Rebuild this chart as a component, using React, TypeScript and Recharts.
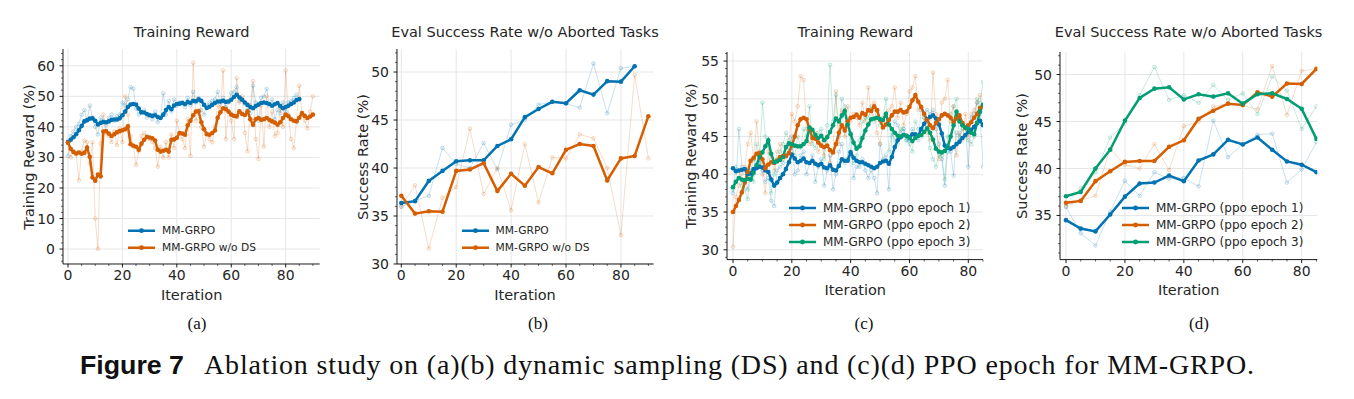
import React from "react";
import { LineChart, Line, XAxis, YAxis, CartesianGrid } from "recharts";

const BLUE = "#0173B2";
const ORANGE = "#D55E00";
const GREEN = "#029E73";
const INK = "#262626";
const GRID = "#e6e6e6";
const SANS = "'DejaVu Sans', sans-serif";

// ---- training reward, one point per iteration ----
// MM-GRPO (= ppo epoch 2), iterations 0..85
const mmGrpoTrainSmooth = [
  35.0, 35.8, 36.6, 37.6, 38.9, 40.3, 41.8, 42.2, 42.7, 42.8,
  42.0, 40.8, 41.3, 41.6, 41.5, 41.8, 42.3, 42.4, 42.4, 42.8,
  43.8, 45.0, 46.5, 47.3, 47.5, 47.3, 46.0, 44.8, 44.7, 44.2,
  43.8, 43.6, 43.8, 43.2, 42.9, 44.0, 45.5, 46.5, 45.8, 47.0,
  47.5, 47.6, 47.9, 47.5, 48.1, 47.9, 48.5, 48.4, 49.0, 48.5,
  47.2, 46.2, 46.6, 47.2, 47.8, 48.3, 48.3, 48.5, 48.2, 48.3,
  48.9, 49.8, 50.5, 49.6, 48.9, 48.0, 47.2, 46.5, 46.1, 46.8,
  47.3, 47.8, 48.0, 47.8, 47.5, 46.9, 47.4, 47.8, 46.8, 46.1,
  46.5, 46.9, 47.5, 48.0, 48.8, 49.1,
];
const mmGrpoTrainRaw = [
  30.4, 37.0, 38.5, 40.0, 41.0, 44.0, 45.5, 42.0, 47.0, 43.0,
  40.0, 37.5, 43.0, 42.0, 40.5, 43.0, 44.0, 42.0, 43.5, 44.0,
  48.0, 47.0, 49.0, 53.0, 52.5, 46.0, 44.0, 44.5, 45.5, 43.0,
  44.0, 42.5, 45.0, 41.5, 43.0, 51.0, 44.0, 48.5, 45.0, 49.0,
  47.0, 48.0, 47.5, 46.5, 49.5, 47.0, 51.5, 48.0, 49.5, 45.5,
  44.0, 47.0, 48.0, 48.5, 49.0, 51.5, 47.5, 49.5, 46.5, 48.0,
  51.0, 51.5, 53.0, 48.5, 49.0, 47.5, 45.5, 44.5, 53.5, 48.0,
  42.0, 49.5, 50.0, 52.5, 47.0, 49.0, 42.5, 45.5, 44.5, 48.0,
  45.0, 48.0, 48.5, 49.5, 50.5, 49.0,
];
// MM-GRPO w/o DS, iterations 0..90
const noDsTrainSmooth = [
  34.8, 32.8, 31.8, 31.3, 31.6, 31.2, 31.5, 33.2, 30.2, 23.4,
  22.4, 24.4, 23.8, 38.5, 38.6, 37.8, 37.0, 37.6, 38.2, 38.6,
  38.9, 39.2, 40.2, 34.3, 33.8, 33.5, 32.5, 34.5, 35.8, 36.7,
  36.5, 36.3, 35.5, 32.5, 31.9, 32.2, 32.5, 31.9, 35.8, 35.9,
  36.4, 38.0, 37.8, 37.4, 40.5, 42.0, 43.8, 45.0, 45.1, 41.5,
  39.2, 37.6, 37.4, 38.0, 38.8, 43.0, 44.8, 46.1, 45.8, 45.0,
  44.0, 43.6, 43.4, 45.1, 44.2, 43.9, 45.1, 42.5, 40.7, 42.5,
  42.9, 42.3, 42.5, 42.9, 42.3, 41.8, 41.4, 40.7, 41.5, 42.9,
  44.0, 43.5, 42.5, 42.0, 41.8, 43.0, 44.5, 43.6, 42.9, 43.4,
  44.0,
];
const noDsTrainRaw = [
  35.5, 30.0, 32.0, 31.0, 22.5, 32.0, 35.5, 35.0, 28.0, 35.0,
  10.0, 0.0, 34.5, 44.0, 38.0, 37.0, 35.0, 38.5, 34.0, 39.5,
  35.0, 50.0, 44.0, 37.0, 34.0, 27.5, 32.0, 37.0, 38.0, 37.0,
  36.0, 35.0, 33.0, 27.0, 33.5, 30.0, 35.0, 30.0, 37.5, 33.0,
  42.0, 38.0, 36.0, 33.0, 42.5, 30.5, 61.0, 42.0, 45.5, 40.0,
  33.5, 38.0, 36.0, 35.0, 40.0, 47.0, 46.0, 58.5, 36.0, 45.0,
  42.0, 36.0, 56.0, 48.0, 50.0, 38.0, 32.0, 47.0, 55.0, 36.0,
  29.5, 47.0, 33.5, 50.0, 40.0, 45.0, 37.0, 38.0, 46.0, 40.0,
  58.5, 44.0, 36.0, 33.0, 42.0, 53.5, 44.0, 42.0, 39.5, 45.0,
  50.0,
];
// ppo epoch 1 and 3, iterations 0..85
const ppo1TrainSmooth = [
  40.8, 40.4, 40.5, 40.6, 40.7, 40.0, 40.1, 40.7, 40.8, 41.0,
  40.9, 40.5, 40.3, 39.3, 38.5, 38.9, 39.5, 40.0, 40.7, 41.6,
  42.6, 42.1, 41.6, 41.8, 42.1, 41.6, 41.5, 41.8, 41.4, 41.2,
  41.4, 40.9, 40.8, 41.2, 40.6, 40.5, 41.1, 42.0, 41.8, 41.8,
  42.9, 42.2, 41.8, 41.6, 41.6, 41.4, 41.2, 41.0, 40.8, 41.0,
  41.5, 41.7, 41.8, 41.4, 42.3, 43.6, 44.5, 44.9, 45.2, 45.1,
  44.9, 45.3, 45.3, 45.1, 46.0, 46.7, 47.3, 47.6, 47.8, 47.4,
  46.6, 45.4, 43.8, 43.5, 43.4, 43.6, 44.0, 44.3, 44.8, 45.2,
  45.6, 45.9, 46.3, 46.8, 47.1, 46.5,
];
const ppo1TrainRaw = [
  37.5, 39.0, 46.0, 41.0, 40.5, 38.0, 40.5, 42.0, 41.0, 41.5,
  40.5, 39.0, 39.5, 36.5, 35.8, 40.5, 41.0, 41.5, 42.5, 43.5,
  45.0, 40.0, 40.5, 42.5, 43.0, 40.0, 41.5, 42.5, 39.0, 41.0,
  42.0, 38.5, 40.5, 42.5, 38.0, 40.0, 43.0, 44.0, 41.5, 42.0,
  45.5, 39.5, 41.0, 41.0, 42.0, 40.5, 39.5, 40.5, 39.5, 37.5,
  44.0, 42.0, 42.5, 38.0, 45.0, 47.0, 46.5, 45.5, 46.0, 44.5,
  44.5, 46.0, 45.0, 44.5, 48.5, 48.0, 48.5, 48.0, 48.5, 46.0,
  44.0, 42.0, 38.5, 43.0, 43.0, 39.8, 45.5, 45.0, 46.5, 46.5,
  41.0, 47.5, 48.0, 49.5, 48.0, 41.0,
];
const ppo3TrainSmooth = [
  38.3, 39.0, 39.5, 39.3, 39.2, 39.4, 39.3, 40.2, 41.2, 42.3,
  42.9, 43.7, 44.5, 42.7, 41.6, 41.7, 41.9, 42.3, 43.6, 44.1,
  44.0, 43.8, 43.7, 43.7, 44.0, 44.4, 46.2, 45.9, 45.2, 44.8,
  45.1, 44.5, 44.9, 45.6, 46.5, 47.4, 47.0, 47.8, 48.4, 46.6,
  45.3, 44.2, 43.4, 43.7, 44.8, 45.8, 46.6, 47.3, 47.4, 47.5,
  47.3, 47.2, 48.0, 46.6, 46.0, 45.5, 45.1, 45.0, 45.2, 45.1,
  44.8, 44.4, 44.8, 45.1, 45.2, 45.6, 46.1, 45.5, 44.6, 43.4,
  43.0, 42.9, 43.1, 43.6, 45.0, 46.5, 48.3, 47.0, 46.5, 46.2,
  46.0, 45.5, 45.3, 46.8, 48.3, 49.2,
];
const ppo3TrainRaw = [
  38.0, 41.0, 40.5, 38.5, 38.0, 36.7, 40.5, 39.0, 44.0, 41.5,
  49.5, 45.0, 44.0, 37.5, 40.0, 42.0, 43.0, 44.0, 45.5, 44.5,
  43.5, 42.5, 45.0, 43.5, 46.0, 45.0, 49.0, 44.0, 43.5, 45.5,
  46.0, 42.0, 46.5, 54.5, 47.0, 50.5, 45.0, 50.0, 49.0, 42.0,
  43.0, 41.5, 42.5, 44.5, 47.0, 47.5, 47.5, 49.0, 47.0, 48.5,
  46.5, 47.5, 50.0, 43.0, 45.5, 44.5, 44.0, 46.0, 46.0, 44.5,
  44.0, 43.0, 47.0, 46.0, 45.0, 47.5, 47.0, 43.5, 42.0, 41.0,
  42.5, 42.5, 39.3, 45.0, 48.0, 49.0, 50.0, 44.5, 46.0, 45.0,
  44.5, 44.0, 45.0, 50.0, 49.5, 52.2,
];

// ---- eval success rate, every 5 iterations ----
// MM-GRPO (= ppo epoch 2), iterations 0..85
const mmGrpoEvalSmooth = [36.35, 36.55, 38.65, 39.7, 40.7, 40.8, 40.8, 42.3, 43.0, 45.3, 46.15, 46.9, 46.75, 48.1, 47.65, 49.05, 49.0, 50.6];
const mmGrpoEvalRaw = [35.95, 36.6, 37.1, 42.1, 40.4, 40.0, 42.6, 39.85, 44.5, 45.0, 46.6, 46.9, 46.7, 46.3, 50.9, 45.7, 50.4, 50.6];
// MM-GRPO w/o DS, iterations 0..90
const noDsEvalSmooth = [37.1, 35.25, 35.5, 35.45, 39.7, 39.85, 40.5, 37.6, 39.4, 38.15, 40.1, 39.45, 41.9, 42.5, 42.3, 38.7, 41.0, 41.25, 45.4];
const noDsEvalRaw = [36.0, 38.2, 31.6, 36.9, 38.0, 44.1, 37.3, 40.0, 35.6, 42.5, 36.4, 41.1, 41.0, 43.5, 43.1, 40.0, 33.0, 49.7, 41.0];
const ppo1EvalSmooth = [34.5, 33.6, 33.3, 35.1, 37.0, 38.4, 38.5, 39.25, 38.65, 40.85, 41.5, 43.05, 42.55, 43.3, 42.0, 40.75, 40.4, 39.6];
const ppo1EvalRaw = [35.9, 33.1, 31.8, 35.4, 38.7, 37.1, 39.6, 38.9, 39.0, 38.1, 45.1, 41.2, 42.6, 43.6, 43.7, 38.5, 39.9, 42.8];
const ppo3EvalSmooth = [37.05, 37.5, 40.0, 42.0, 45.1, 47.5, 48.5, 48.65, 47.35, 47.9, 47.65, 48.0, 46.9, 47.9, 48.0, 47.4, 46.35, 43.15];
const ppo3EvalRaw = [36.2, 37.9, 39.6, 43.3, 44.8, 47.8, 50.8, 47.3, 47.8, 47.0, 48.9, 47.3, 48.0, 45.8, 49.8, 48.3, 44.2, 46.6];

const range = (n: number, step = 1) => Array.from({ length: n }, (_, i) => i * step);
const pts = (ys: number[], step = 1) => ys.map((y, i) => ({ x: i * step, y }));

const xMajor = [0, 20, 40, 60, 80];
const xMinorTo = (max: number) => range(Math.floor(max / 5) + 1, 5);

const Y_W = 60;
const PAD_T = 10;
const PAD_R = 6;
const X_H = 32;

type Series = { color: string; raw: number[]; smooth: number[]; step: number; label: string };

type PanelProps = {
  plot: { l: number; t: number; r: number; b: number };
  xDomain: [number, number];
  yDomain: [number, number];
  yMajor: number[];
  yMinor: number[];
  series: Series[];
  title: string;
  yLabel: string;
  yLabelX: number;
  legend: { x: number; y: number; gap: number; font: number };
};

function Panel(p: PanelProps) {
  const w = p.plot.r - p.plot.l;
  const h = p.plot.b - p.plot.t;
  const bottom = PAD_T + h;
  const xTicks = xMinorTo(p.xDomain[1]);

  const yTick = (props: any) => {
    const { y, payload } = props;
    const major = p.yMajor.includes(payload.value);
    return (
      <g>
        <line x1={Y_W - (major ? 3.5 : 2)} x2={Y_W} y1={y} y2={y} stroke="#000" strokeWidth={major ? 0.9 : 0.6} />
        {major && (
          <text x={Y_W - 8} y={y} dy="0.36em" textAnchor="end" fontSize={14} fill={INK} fontFamily={SANS}>
            {payload.value}
          </text>
        )}
      </g>
    );
  };
  const xTick = (props: any) => {
    const { x, payload } = props;
    const major = xMajor.includes(payload.value);
    return (
      <g>
        <line x1={x} x2={x} y1={bottom} y2={bottom + (major ? 3.5 : 2)} stroke="#000" strokeWidth={major ? 0.9 : 0.6} />
        {major && (
          <text x={x} y={bottom + 6} dy="0.71em" textAnchor="middle" fontSize={14} fill={INK} fontFamily={SANS}>
            {payload.value}
          </text>
        )}
      </g>
    );
  };

  const cx = (p.plot.l + p.plot.r) / 2;

  return (
    <>
      <div style={{ position: "absolute", left: p.plot.l - Y_W, top: p.plot.t - PAD_T }}>
        <LineChart
          width={w + Y_W + PAD_R}
          height={h + PAD_T + X_H}
          margin={{ top: PAD_T, right: PAD_R, left: 0, bottom: 0 }}
        >
          <CartesianGrid stroke={GRID} strokeWidth={1} horizontalValues={p.yMajor} verticalValues={xMajor} />
          <XAxis
            type="number"
            dataKey="x"
            domain={p.xDomain}
            allowDataOverflow
            ticks={xTicks}
            interval={0}
            height={X_H}
            axisLine={{ stroke: "#000", strokeWidth: 0.9 }}
            tickLine={false}
            tick={xTick}
          />
          <YAxis
            type="number"
            dataKey="y"
            domain={p.yDomain}
            allowDataOverflow
            ticks={p.yMinor}
            interval={0}
            width={Y_W}
            axisLine={{ stroke: "#000", strokeWidth: 0.9 }}
            tickLine={false}
            tick={yTick}
          />
          {p.series.map((s, i) => (
            <Line
              key={"raw" + i}
              data={pts(s.raw, s.step)}
              dataKey="y"
              type="linear"
              stroke={s.color}
              strokeOpacity={0.22}
              strokeWidth={1}
              dot={{ r: 1.8, fill: s.color, fillOpacity: 0.06, stroke: s.color, strokeOpacity: 0.28, strokeWidth: 0.8 }}
              activeDot={false}
              isAnimationActive={false}
            />
          ))}
          {p.series.map((s, i) => (
            <Line
              key={"smooth" + i}
              data={pts(s.smooth, s.step)}
              dataKey="y"
              type="linear"
              stroke={s.color}
              strokeWidth={2.5}
              dot={{ r: 2.3, fill: s.color, stroke: s.color, strokeWidth: 0 }}
              activeDot={false}
              isAnimationActive={false}
            />
          ))}
        </LineChart>
      </div>

      <div style={{ ...label, left: cx, top: 32, transform: "translate(-50%, -50%)" }}>{p.title}</div>
      <div style={{ ...label, left: cx, top: p.plot.b + 31, transform: "translate(-50%, -50%)" }}>Iteration</div>
      <div
        style={{
          ...label,
          left: p.yLabelX,
          top: (p.plot.t + p.plot.b) / 2,
          transform: "translate(-50%, -50%) rotate(-90deg)",
        }}
      >
        {p.yLabel}
      </div>

      {p.series.map((s, i) => (
        <div
          key={"lg" + i}
          style={{
            position: "absolute",
            left: p.legend.x,
            top: p.legend.y + i * p.legend.gap,
            transform: "translateY(-50%)",
            display: "flex",
            alignItems: "center",
            fontFamily: SANS,
            fontSize: p.legend.font,
            color: INK,
            whiteSpace: "nowrap",
            lineHeight: 1,
          }}
        >
          <svg width={27} height={8} style={{ marginRight: 7 }}>
            <line x1={0} x2={27} y1={4} y2={4} stroke={s.color} strokeWidth={2.5} />
            <circle cx={13.5} cy={4} r={2.4} fill={s.color} />
          </svg>
          {s.label}
        </div>
      ))}
    </>
  );
}

const label: React.CSSProperties = {
  position: "absolute",
  fontFamily: SANS,
  fontSize: 14.5,
  color: INK,
  whiteSpace: "nowrap",
  lineHeight: 1,
};

const trainMajorA = [0, 10, 20, 30, 40, 50, 60];
const trainMinorA = range(35, 2).map((v) => v - 4);
const evalMajorB = [30, 35, 40, 45, 50];
const evalMinorB = range(23).map((v) => v + 30);
const trainMajorC = [30, 35, 40, 45, 50, 55];
const trainMinorC = range(28).map((v) => v + 29);
const evalMajorD = [35, 40, 45, 50];
const evalMinorD = range(22).map((v) => v + 31);

const ppoLabels = ["MM-GRPO (ppo epoch 1)", "MM-GRPO (ppo epoch 2)", "MM-GRPO (ppo epoch 3)"];

export default function App() {
  return (
    <div
      style={{
        position: "absolute",
        left: 0,
        top: 0,
        width: 1354,
        height: 399,
        background: "#fff",
        overflow: "hidden",
      }}
    >
      <Panel
        plot={{ l: 63.3, t: 49.3, r: 320, b: 264.3 }}
        xDomain={[-1.84, 92.5]}
        yDomain={[-4.9, 65.5]}
        yMajor={trainMajorA}
        yMinor={trainMinorA}
        title="Training Reward"
        yLabel="Training Reward (%)"
        yLabelX={29}
        legend={{ x: 128, y: 231, gap: 16.5, font: 10.7 }}
        series={[
          { color: BLUE, raw: mmGrpoTrainRaw, smooth: mmGrpoTrainSmooth, step: 1, label: "MM-GRPO" },
          { color: ORANGE, raw: noDsTrainRaw, smooth: noDsTrainSmooth, step: 1, label: "MM-GRPO w/o DS" },
        ]}
      />
      <Panel
        plot={{ l: 396.7, t: 49.3, r: 653.3, b: 264.3 }}
        xDomain={[-1.57, 91.9]}
        yDomain={[30, 52.4]}
        yMajor={evalMajorB}
        yMinor={evalMinorB}
        title="Eval Success Rate w/o Aborted Tasks"
        yLabel="Success Rate (%)"
        yLabelX={362.7}
        legend={{ x: 461.5, y: 231, gap: 17, font: 10.7 }}
        series={[
          { color: BLUE, raw: mmGrpoEvalRaw, smooth: mmGrpoEvalSmooth, step: 5, label: "MM-GRPO" },
          { color: ORANGE, raw: noDsEvalRaw, smooth: noDsEvalSmooth, step: 5, label: "MM-GRPO w/o DS" },
        ]}
      />
      <Panel
        plot={{ l: 727.3, t: 51.7, r: 983.3, b: 259.3 }}
        xDomain={[-2.04, 85.0]}
        yDomain={[28.7, 56.2]}
        yMajor={trainMajorC}
        yMinor={trainMinorC}
        title="Training Reward"
        yLabel="Training Reward (%)"
        yLabelX={690.7}
        legend={{ x: 789, y: 207.7, gap: 17, font: 12 }}
        series={[
          { color: BLUE, raw: ppo1TrainRaw, smooth: ppo1TrainSmooth, step: 1, label: ppoLabels[0] },
          { color: ORANGE, raw: mmGrpoTrainRaw, smooth: mmGrpoTrainSmooth, step: 1, label: ppoLabels[1] },
          { color: GREEN, raw: ppo3TrainRaw, smooth: ppo3TrainSmooth, step: 1, label: ppoLabels[2] },
        ]}
      />
      <Panel
        plot={{ l: 1060, t: 51.7, r: 1317.3, b: 259.3 }}
        xDomain={[-2.04, 85.3]}
        yDomain={[30.3, 52.4]}
        yMajor={evalMajorD}
        yMinor={evalMinorD}
        title="Eval Success Rate w/o Aborted Tasks"
        yLabel="Success Rate (%)"
        yLabelX={1021.7}
        legend={{ x: 1122, y: 207.7, gap: 17, font: 12 }}
        series={[
          { color: BLUE, raw: ppo1EvalRaw, smooth: ppo1EvalSmooth, step: 5, label: ppoLabels[0] },
          { color: ORANGE, raw: mmGrpoEvalRaw, smooth: mmGrpoEvalSmooth, step: 5, label: ppoLabels[1] },
          { color: GREEN, raw: ppo3EvalRaw, smooth: ppo3EvalSmooth, step: 5, label: ppoLabels[2] },
        ]}
      />

      <svg width={1354} height={399} style={{ position: "absolute", left: 0, top: 0, pointerEvents: "none" }}>
        <g fontFamily="'Liberation Serif', serif" fontSize={17} fill="#111" textAnchor="middle">
          <text x={197} y={329}>(a)</text>
          <text x={538} y={329}>(b)</text>
          <text x={864} y={329}>(c)</text>
          <text x={1199} y={329}>(d)</text>
        </g>
        <text x={80} y={374} fontFamily="'Liberation Sans', sans-serif" fontWeight="bold" fontSize={25} fill="#111" textLength={104} lengthAdjust="spacingAndGlyphs">
          Figure 7
        </text>
        <text x={204} y={374} fontFamily="'Liberation Serif', serif" fontSize={28} fill="#111" textLength={1050} lengthAdjust="spacing">
          Ablation study on (a)(b) dynamic sampling (DS) and (c)(d) PPO epoch for MM-GRPO.
        </text>
      </svg>
    </div>
  );
}
